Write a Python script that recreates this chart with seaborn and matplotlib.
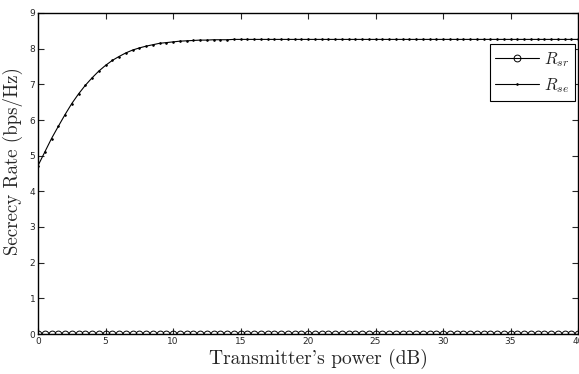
import numpy as np
import pandas as pd
import seaborn as sns
import matplotlib
matplotlib.use("Agg")
import matplotlib.pyplot as plt

# transmit power grid (dB), 0.5 dB steps
power_db = np.arange(0, 40.5, 0.5)

# R_sr stays at zero over the whole range
r_sr = [0.0, 0.0, 0.0, 0.0, 0.0, 0.0, 0.0, 0.0, 0.0, 0.0,
        0.0, 0.0, 0.0, 0.0, 0.0, 0.0, 0.0, 0.0, 0.0, 0.0,
        0.0, 0.0, 0.0, 0.0, 0.0, 0.0, 0.0, 0.0, 0.0, 0.0,
        0.0, 0.0, 0.0, 0.0, 0.0, 0.0, 0.0, 0.0, 0.0, 0.0,
        0.0, 0.0, 0.0, 0.0, 0.0, 0.0, 0.0, 0.0, 0.0, 0.0,
        0.0, 0.0, 0.0, 0.0, 0.0, 0.0, 0.0, 0.0, 0.0, 0.0,
        0.0, 0.0, 0.0, 0.0, 0.0, 0.0, 0.0, 0.0, 0.0, 0.0,
        0.0, 0.0, 0.0, 0.0, 0.0, 0.0, 0.0, 0.0, 0.0, 0.0,
        0.0]

# R_se
r_se = [4.72, 5.10, 5.48, 5.82, 6.15, 6.46, 6.73, 6.97, 7.18, 7.37,
        7.53, 7.67, 7.78, 7.88, 7.96, 8.02, 8.07, 8.11, 8.15, 8.17,
        8.19, 8.21, 8.22, 8.23, 8.24, 8.24, 8.25, 8.25, 8.25, 8.26,
        8.26, 8.26, 8.26, 8.26, 8.26, 8.26, 8.26, 8.26, 8.26, 8.26,
        8.26, 8.26, 8.26, 8.26, 8.26, 8.26, 8.26, 8.26, 8.26, 8.26,
        8.26, 8.26, 8.26, 8.26, 8.26, 8.26, 8.26, 8.26, 8.26, 8.26,
        8.26, 8.26, 8.26, 8.26, 8.26, 8.26, 8.26, 8.26, 8.26, 8.26,
        8.26, 8.26, 8.26, 8.26, 8.26, 8.26, 8.26, 8.26, 8.26, 8.26,
        8.26]

xticks = [0, 5, 10, 15, 20, 25, 30, 35, 40]
yticks = [0, 1, 2, 3, 4, 5, 6, 7, 8, 9]

sns.set_style("ticks")
plt.rcParams['mathtext.fontset'] = 'cm'
plt.rcParams['font.family'] = ['DejaVu Sans']

df = pd.DataFrame({"power": power_db, "sr": r_sr, "se": r_se})

fig = plt.figure(figsize=(5.79, 3.74), dpi=100)
ax = fig.add_axes([38/579, 40/374, 540/579, 321/374])

sns.lineplot(data=df, x="power", y="sr", ax=ax, color="black", lw=0.8,
             marker="o", markersize=4.9, markerfacecolor="none",
             markeredgecolor="black", markeredgewidth=0.7, label=r"$R_{sr}$")
sns.lineplot(data=df, x="power", y="se", ax=ax, color="black", lw=0.8,
             marker=".", markersize=2.2, markeredgecolor="black",
             label=r"$R_{se}$")

ax.set_xlim(0, 40)
ax.set_ylim(0, 9)
ax.set_xticks(xticks)
ax.set_yticks(yticks)
ax.tick_params(direction="in", top=True, right=True, length=4, width=0.8,
               labelsize=6.5, pad=2)
for s in ax.spines.values():
    s.set_linewidth(1.0)
    s.set_color("black")

# LaTeX-looking axis labels (cmr10 ships with matplotlib; its ' is a closing quote)
ax.set_xlabel("Transmitter's power (dB)", fontname="cmr10", fontsize=14,
              labelpad=0)
ax.xaxis.set_label_coords(0.519, -0.045, transform=ax.transAxes)
ax.xaxis.label.set_va("top")
ax.set_ylabel("Secrecy Rate (bps/Hz)", fontname="cmr10", fontsize=13.6,
              labelpad=2)
ax.yaxis.set_label_coords(-0.028, 0.54, transform=ax.transAxes)

leg = ax.legend(loc="upper right", bbox_to_anchor=(0.994, 0.903), fontsize=12,
                frameon=True, fancybox=False, framealpha=1, edgecolor="black",
                handlelength=2.6, borderaxespad=0.0, labelspacing=0.45,
                handletextpad=0.3, borderpad=0.35)
leg.get_frame().set_linewidth(0.8)

fig.savefig("out.png", dpi=100)
